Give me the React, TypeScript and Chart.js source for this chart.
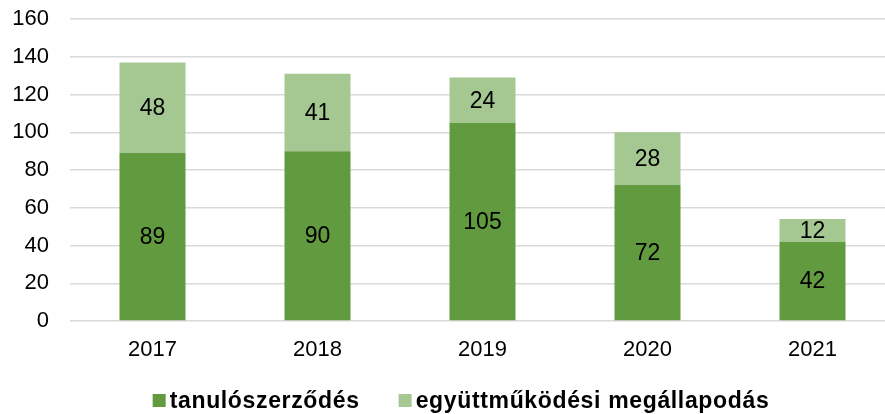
import React, { useEffect, useRef } from "react";
import { Chart, registerables } from "chart.js";

Chart.register(...registerables);

const categories = ["2017", "2018", "2019", "2020", "2021"];
const tanuloszerzodes = [89, 90, 105, 72, 42];
const egyuttmukodesi = [48, 41, 24, 28, 12];
const seriesNames = ["tanulószerződés", "együttműködési megállapodás"];
const seriesColors = ["#629a3f", "#a5c792"];

const FONT = "'Liberation Sans', Arial, sans-serif";

const valueLabels = {
  id: "valueLabels",
  afterDatasetsDraw(chart: any) {
    const ctx = chart.ctx;
    ctx.save();
    ctx.font = `23px ${FONT}`;
    ctx.fillStyle = "#000";
    ctx.textAlign = "center";
    ctx.textBaseline = "middle";
    chart.data.datasets.forEach((ds: any, i: number) => {
      const meta = chart.getDatasetMeta(i);
      meta.data.forEach((el: any, j: number) => {
        const y = (el.y + el.base) / 2;
        ctx.fillText(String(ds.data[j]), el.x, y + 1);
      });
    });
    ctx.restore();
  },
};

const customLegend = {
  id: "customLegend",
  afterDraw(chart: any) {
    const ctx = chart.ctx;
    ctx.save();
    ctx.font = `bold 23px ${FONT}`;
    try {
      (ctx as any).letterSpacing = "0.65px";
    } catch (e) {}
    const box = 13;
    const gap = 4;
    const itemGap = 39;
    const items = chart.data.datasets.map((ds: any) => ({
      text: ds.label,
      color: ds.backgroundColor,
      w: ctx.measureText(ds.label).width,
    }));
    let total = 0;
    items.forEach((it: any, i: number) => {
      total += box + gap + it.w + (i > 0 ? itemGap : 0);
    });
    const cx = 461;
    const cy = 400.5;
    let x = cx - total / 2;
    ctx.textBaseline = "middle";
    ctx.textAlign = "left";
    items.forEach((it: any) => {
      ctx.fillStyle = it.color;
      ctx.fillRect(x, cy - box / 2, box, box);
      x += box + gap;
      ctx.fillStyle = "#000";
      ctx.fillText(it.text, x, cy + 1);
      x += it.w + itemGap;
    });
    ctx.restore();
  },
};

export default function App() {
  const ref = useRef<HTMLCanvasElement>(null);
  useEffect(() => {
    if (!ref.current) return;
    const chart = new Chart(ref.current, {
      type: "bar",
      data: {
        labels: categories,
        datasets: [
          {
            label: seriesNames[0],
            data: tanuloszerzodes,
            backgroundColor: seriesColors[0],
            categoryPercentage: 1,
            barPercentage: 0.4,
          },
          {
            label: seriesNames[1],
            data: egyuttmukodesi,
            backgroundColor: seriesColors[1],
            categoryPercentage: 1,
            barPercentage: 0.4,
          },
        ],
      },
      options: {
        animation: false,
        responsive: false,
        layout: { padding: { top: 19, right: 0, left: 0, bottom: 43 } },
        plugins: {
          tooltip: { enabled: false },
          legend: { display: false },
        },
        scales: {
          x: {
            stacked: true,
            afterFit: (scale: any) => {
              scale.height = 50;
              scale.paddingLeft = 0;
              scale.paddingRight = 0;
            },
            grid: { display: false, drawTicks: false },
            border: { display: false },
            ticks: {
              color: "#000",
              padding: 16,
              font: { family: FONT, size: 22 },
            },
          },
          y: {
            stacked: true,
            min: 0,
            max: 160,
            afterFit: (scale: any) => {
              scale.width = 70;
              scale.paddingTop = 0;
              scale.paddingBottom = 0;
            },
            grid: { color: "#d9d9d9", lineWidth: 1.5, drawTicks: false },
            border: { display: false },
            ticks: {
              stepSize: 20,
              color: "#000",
              padding: 21,
              font: { family: FONT, size: 22 },
            },
          },
        },
      },
      plugins: [valueLabels, customLegend],
    });
    return () => chart.destroy();
  }, []);
  return (
    <div
      style={{
        position: "fixed",
        left: 0,
        top: 0,
        width: 885,
        height: 414,
        overflow: "hidden",
        background: "#fff",
      }}
    >
      <canvas ref={ref} width={895} height={414} style={{ display: "block" }} />
    </div>
  );
}
